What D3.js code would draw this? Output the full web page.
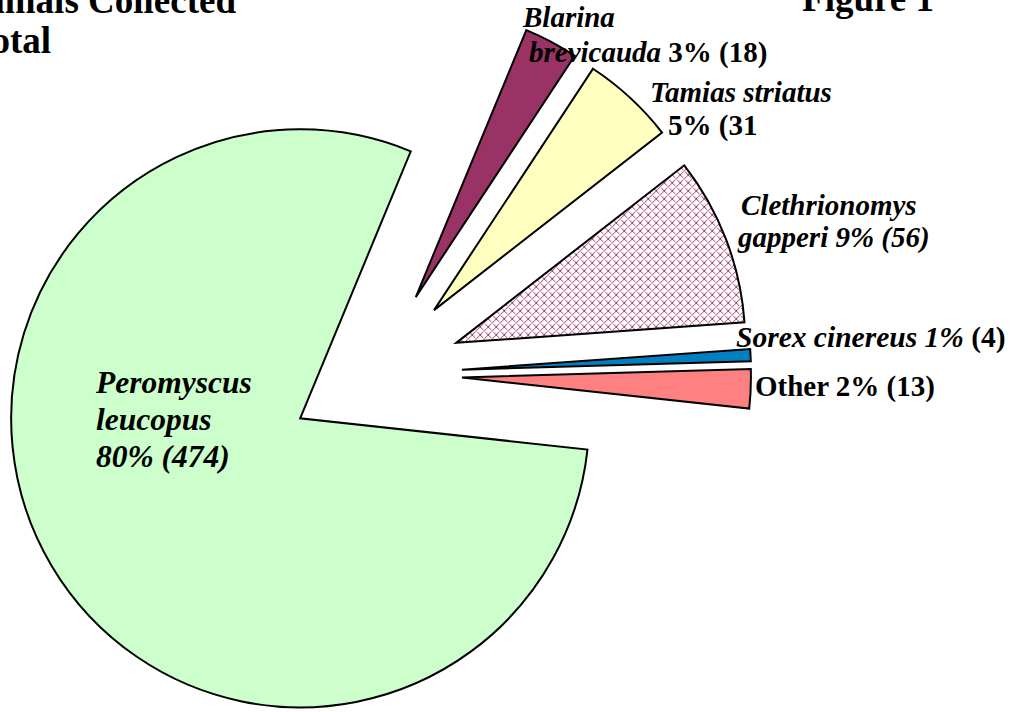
<!DOCTYPE html>
<html>
<head>
<meta charset="utf-8">
<script src="https://cdn.jsdelivr.net/npm/d3@7"></script>
<style>
  html, body { margin: 0; padding: 0; background: #fff; }
  svg { display: block; }
  text { font-family: 'Liberation Serif', 'Times New Roman', serif; font-weight: bold; fill: #000; }
</style>
</head>
<body>
<svg class="chart"></svg>
<script>
// slice order follows the picture, clockwise from the top-right
const species = ['Blarina brevicauda', 'Tamias striatus', 'Clethrionomys gapperi', 'Sorex cinereus', 'Other', 'Peromyscus leucopus'];
const counts = [18, 31, 56, 4, 13, 474];
const percents = ['3%', '5%', '9%', '1%', '2%', '80%'];
const titleLines = ['Small Mammals Collected', 'Total'];
const figureLabel = 'Figure 1';

// label text, split into lines of [text, italic] runs
const labelLines = [
  [[['Blarina', true]], [['brevicauda', true], [' 3% (18)', false]]],
  [[['Tamias striatus', true]], [['5% (31', false]]],
  [[['Clethrionomys', true]], [['gapperi 9% (56)', true]]],
  [[['Sorex cinereus 1%', true], [' (4)', false]]],
  [[['Other 2% (13)', false]]],
  [[['Peromyscus', true]], [['leucopus', true]], [['80% (474)', true]]]
];

const startApp = () => {
  const viewBox = { width: 1019, height: 712 };
  const center = { x: 375, y: 374 };
  const radius = 289;
  const explode = 87;
  const fills = ['#993366', '#FFFFC0', 'url(#brick)', '#0080C0', '#FF8080', '#CCFFCC'];
  // where each label block starts (left x, first baseline, line gap, per-line x shift, size)
  const labelLayout = [
    { x: 523, y: 27, gap: 35, dx: [0, 6], size: 29 },
    { x: 650, y: 102, gap: 33, dx: [0, 18], size: 29 },
    { x: 741, y: 215, gap: 32, dx: [0, -3], size: 29 },
    { x: 736, y: 347, gap: 0, dx: [0], size: 29.5 },
    { x: 755, y: 396, gap: 0, dx: [0], size: 29 },
    { x: 96, y: 393, gap: 37, dx: [0, 0, 0], size: 31.5 }
  ];

  const svg = d3.select('.chart')
    .attr('width', viewBox.width)
    .attr('height', viewBox.height);

  // trellis fill, drawn pixel by pixel: full rising diagonal, broken falling one
  const tile = 8;
  const brickPixels = d3.range(tile).map(x => [x, tile - 1 - x])
    .concat([[0, 0], [1, 1], [2, 2], [5, 5], [6, 6], [7, 7]]);
  const pattern = svg.append('defs').append('pattern')
    .attr('id', 'brick')
    .attr('patternUnits', 'userSpaceOnUse')
    .attr('width', tile)
    .attr('height', tile);
  pattern.append('rect').attr('width', tile).attr('height', tile).attr('fill', '#fff');
  pattern.selectAll('rect.px')
    .data(brickPixels)
    .enter()
    .append('rect')
    .classed('px', true)
    .attr('x', d => d[0])
    .attr('y', d => d[1])
    .attr('width', 1)
    .attr('height', 1)
    .attr('fill', '#993366');

  const pie = d3.pie()
    .sort(null)
    .startAngle(22.5 * Math.PI / 180)
    .endAngle(382.5 * Math.PI / 180);
  const arc = d3.arc().innerRadius(0).outerRadius(radius);

  svg.append('g')
    .attr('transform', `translate(${center.x}, ${center.y})`)
    .selectAll('path')
    .data(pie(counts))
    .enter()
    .append('path')
    .attr('d', arc)
    .attr('transform', (d) => {
      const mid = (d.startAngle + d.endAngle) / 2;
      return `translate(${explode * Math.sin(mid)}, ${-explode * Math.cos(mid)})`;
    })
    .attr('fill', (d, i) => fills[i])
    .attr('stroke', '#000')
    .attr('stroke-width', 2)
    .attr('stroke-linejoin', 'miter');

  // data labels
  const labels = svg.append('g');
  labelLines.forEach((lines, i) => {
    const pos = labelLayout[i];
    lines.forEach((runs, j) => {
      const t = labels.append('text')
        .attr('x', pos.x + pos.dx[j])
        .attr('y', pos.y + j * pos.gap)
        .style('font-size', `${pos.size}px`);
      runs.forEach(([txt, italic]) => {
        t.append('tspan')
          .attr('font-style', italic ? 'italic' : 'normal')
          .style('white-space', 'pre')
          .text(txt);
      });
    });
  });

  // title, clipped by the page edge as in the original
  svg.append('text')
    .attr('x', 236).attr('y', 13)
    .attr('text-anchor', 'end')
    .style('font-size', '37px')
    .text(titleLines[0]);
  svg.append('text')
    .attr('x', 51).attr('y', 53)
    .attr('text-anchor', 'end')
    .style('font-size', '37px')
    .text(titleLines[1]);

  svg.append('text')
    .attr('x', 934).attr('y', 11)
    .attr('text-anchor', 'end')
    .style('font-size', '37px')
    .text(figureLabel);
};

window.onload = startApp;
</script>
</body>
</html>
